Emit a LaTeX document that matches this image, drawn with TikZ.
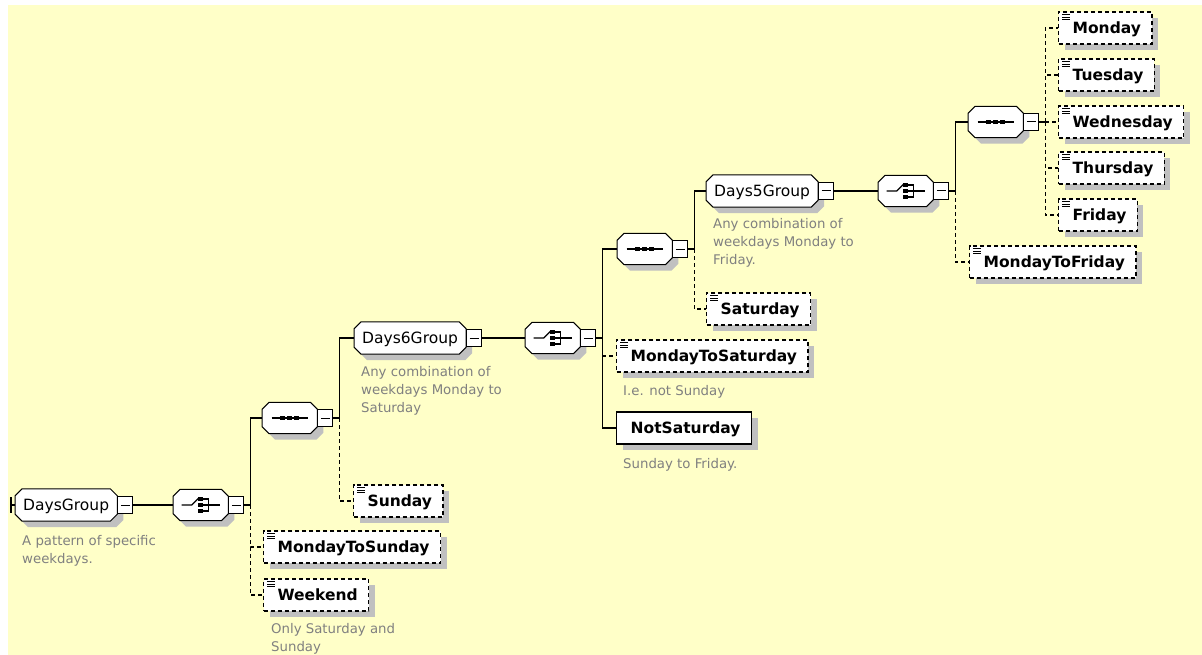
\documentclass[tikz,border=0pt]{standalone}
\usepackage{fontspec}
\setmainfont{DejaVu Sans}
\usetikzlibrary{shadows}
\pgfdeclarelayer{paper}
\pgfdeclarelayer{octo}
\pgfsetlayers{paper,octo,main}
\definecolor{papercol}{HTML}{FFFFC8}
\definecolor{shadowc}{HTML}{C0C0C0}
\definecolor{descgray}{HTML}{808080}

% padding around element names
\newcommand\eltext[1]{\hspace*{14pt}#1\hspace*{11pt}}

\tikzset{
  octpath/.style n args={3}{insert path={
    ([shift={(#2+7,#3)}]#1.north west) -- ([shift={(#2-7,#3)}]#1.north east) --
    ([shift={(#2,#3+7)}]#1.north east) -- ([shift={(#2,#3-7)}]#1.south east) --
    ([shift={(#2-7,#3)}]#1.south east) -- ([shift={(#2+7,#3)}]#1.south west) --
    ([shift={(#2,#3-7)}]#1.south west) -- ([shift={(#2,#3+7)}]#1.north west) -- cycle}},
  group/.style={inner xsep=8pt, inner ysep=0pt, minimum height=32pt,
    text height=11.3pt, text depth=0pt, font=\fontsize{15.5}{18}\selectfont, anchor=west},
  comp/.style={minimum width=55pt, minimum height=31pt, inner sep=0pt, anchor=west},
  minus/.style={draw, fill=white, line width=1pt, minimum width=15pt, minimum height=17pt,
    inner sep=0pt, anchor=west,
    path picture={\draw[line width=1pt] ([xshift=3pt]path picture bounding box.west)
      -- ([xshift=-3pt]path picture bounding box.east);}},
  elembase/.style={fill=white, inner sep=0pt, minimum height=32pt,
    text height=11.3pt, text depth=0pt, font=\fontsize{15.5}{18}\selectfont\bfseries,
    anchor=west, line width=1.3pt,
    drop shadow={shadow xshift=6pt, shadow yshift=-6pt, opacity=1, fill=shadowc, draw=none}},
  opt/.style={elembase, draw, dash pattern=on 4pt off 3pt},
  req/.style={elembase, draw},
  desc/.style={anchor=north west, inner sep=0pt, align=left, text=descgray,
    font=\fontsize{13.3}{18}\selectfont},
  link/.style={line width=1.2pt},
  optlink/.style={link, dash pattern=on 4pt off 3pt}
}

% octagon outline with its shadow, behind the node text
\newcommand\octo[1]{%
  \begin{pgfonlayer}{octo}
    \fill[shadowc, octpath={#1}{6}{6}];
    \draw[fill=white, line width=1pt, octpath={#1}{0}{0}];
  \end{pgfonlayer}}

% simple-content marker in the top left corner of an element
\newcommand\simpleicon[1]{%
  \draw[line width=0.9pt] ([shift={(4,3.5)}]#1.north west) -- ++(8,0)
    ([shift={(4,6)}]#1.north west) -- ++(8,0)
    ([shift={(4,8.5)}]#1.north west) -- ++(8,0);}

% sequence compositor symbol
\newcommand\seqicon[1]{%
  \draw[line width=1.2pt] ([xshift=-18pt]#1.center) -- ([xshift=18pt]#1.center);
  \foreach \dx in {-7,0,7}
    \fill ([shift={(\dx-2.3,-2)}]#1.center) rectangle ([shift={(\dx+2.3,2)}]#1.center);}

% choice compositor symbol
\newcommand\choiceicon[1]{%
  \draw[line width=1.2pt] ([xshift=-19pt]#1.center) -- ([xshift=-9pt]#1.center)
    -- ([shift={(-2,-7)}]#1.center);
  \foreach \dy in {-6,0,6}
    \fill ([shift={(-2.3,\dy-2)}]#1.center) rectangle ([shift={(2.3,\dy+2)}]#1.center);
  \draw[line width=1.2pt] ([shift={(2,-6)}]#1.center) -- ([shift={(8,-6)}]#1.center)
    -- ([shift={(8,6)}]#1.center) -- ([shift={(2,6)}]#1.center);
  \draw[line width=1.2pt] ([shift={(2,0)}]#1.center) -- ([shift={(19,0)}]#1.center);}

\begin{document}
\begin{tikzpicture}[x=1pt, y=-1pt]
\useasboundingbox (0,0) rectangle (1202,655);
\begin{pgfonlayer}{paper}
  \fill[white] (0,0) rectangle (1202,655);
  \fill[papercol] (8,5) rectangle (1202,655);
\end{pgfonlayer}

% ---- DaysGroup ----
\node[group] (dg) at (15,505) {DaysGroup};
\octo{dg}
\node[minus] (dgm) at (dg.east) {};
\node[desc] (dgd) at (22,535) {A pattern of specific\\weekdays.};

\node[comp] (ch1) at (173,505) {};
\octo{ch1} \choiceicon{ch1}
\node[minus] (ch1m) at (ch1.east) {};

\node[comp] (s1) at (262,418) {};
\octo{s1} \seqicon{s1}
\node[minus] (s1m) at (s1.east) {};

\node[opt] (mtsun) at (263,547) {\eltext{MondayToSunday}};
\simpleicon{mtsun}
\node[opt] (wkd) at (263,595) {\eltext{Weekend}};
\simpleicon{wkd}
\node[desc] (wkdd) at (271,623) {Only Saturday and\\Sunday};

% ---- Days6Group ----
\node[group] (d6) at (354,338) {Days6Group};
\octo{d6}
\node[minus] (d6m) at (d6.east) {};
\node[desc] (d6d) at (361,366) {Any combination of\\weekdays Monday to\\Saturday};

\node[opt] (sun) at (353,501) {\eltext{Sunday}};
\simpleicon{sun}

\node[comp] (ch2) at (525,338) {};
\octo{ch2} \choiceicon{ch2}
\node[minus] (ch2m) at (ch2.east) {};

\node[comp] (s2) at (617,249) {};
\octo{s2} \seqicon{s2}
\node[minus] (s2m) at (s2.east) {};

\node[opt] (mtsat) at (616,356) {\eltext{MondayToSaturday}};
\simpleicon{mtsat}
\node[desc] (mtsatd) at (623,385) {I.e. not Sunday};
\node[req] (nsat) at (616,428) {\eltext{NotSaturday}};
\node[desc] (nsatd) at (623,458) {Sunday to Friday.};

\node[opt] (sat) at (706,309) {\eltext{Saturday}};
\simpleicon{sat}

% ---- Days5Group ----
\node[group] (d5) at (706,191) {Days5Group};
\octo{d5}
\node[minus] (d5m) at (d5.east) {};
\node[desc] (d5d) at (713,218) {Any combination of\\weekdays Monday to\\Friday.};

\node[comp] (ch3) at (878,191) {};
\octo{ch3} \choiceicon{ch3}
\node[minus] (ch3m) at (ch3.east) {};

\node[comp] (s3) at (968,122) {};
\octo{s3} \seqicon{s3}
\node[minus] (s3m) at (s3.east) {};

\node[opt] (mtf) at (969,262) {\eltext{MondayToFriday}};
\simpleicon{mtf}

\node[opt] (mon) at (1058,28) {\eltext{Monday}};
\simpleicon{mon}
\node[opt] (tue) at (1058,75) {\eltext{Tuesday}};
\simpleicon{tue}
\node[opt] (wed) at (1058,122) {\eltext{Wednesday}};
\simpleicon{wed}
\node[opt] (thu) at (1058,168) {\eltext{Thursday}};
\simpleicon{thu}
\node[opt] (fri) at (1058,215) {\eltext{Friday}};
\simpleicon{fri}

% ---- connectors ----
\draw[link] (dg.west) -- ++(-4,0) coordinate (tick);
\draw[link] ([yshift=8pt]tick) -- ([yshift=-8pt]tick);
\draw[link] (dgm.east) -- (ch1.west);

\coordinate (b1) at ([xshift=6pt]ch1m.east);
\draw[link] (ch1m.east) -- (b1) |- (s1.west);
\draw[optlink] (b1) |- (mtsun.west);
\draw[optlink] (b1) |- (wkd.west);

\coordinate (b2) at ([xshift=6pt]s1m.east);
\draw[link] (s1m.east) -- (b2) |- (d6.west);
\draw[optlink] (b2) |- (sun.west);

\draw[link] (d6m.east) -- (ch2.west);
\coordinate (b3) at ([xshift=6pt]ch2m.east);
\draw[link] (ch2m.east) -- (b3) |- (s2.west);
\draw[link] (b3) |- (nsat.west);
\draw[optlink] (mtsat.west -| b3) -- (mtsat.west);

\coordinate (b4) at ([xshift=6pt]s2m.east);
\draw[link] (s2m.east) -- (b4) |- (d5.west);
\draw[optlink] (b4) |- (sat.west);

\draw[link] (d5m.east) -- (ch3.west);
\coordinate (b5) at ([xshift=6pt]ch3m.east);
\draw[link] (ch3m.east) -- (b5) |- (s3.west);
\draw[optlink] (b5) |- (mtf.west);

\coordinate (b6) at ([xshift=6pt]s3m.east);
\draw[link] (s3m.east) -- (b6);
\foreach \d in {mon,tue,wed,thu,fri}
  \draw[optlink] (b6) |- (\d.west);
\end{tikzpicture}
\end{document}
